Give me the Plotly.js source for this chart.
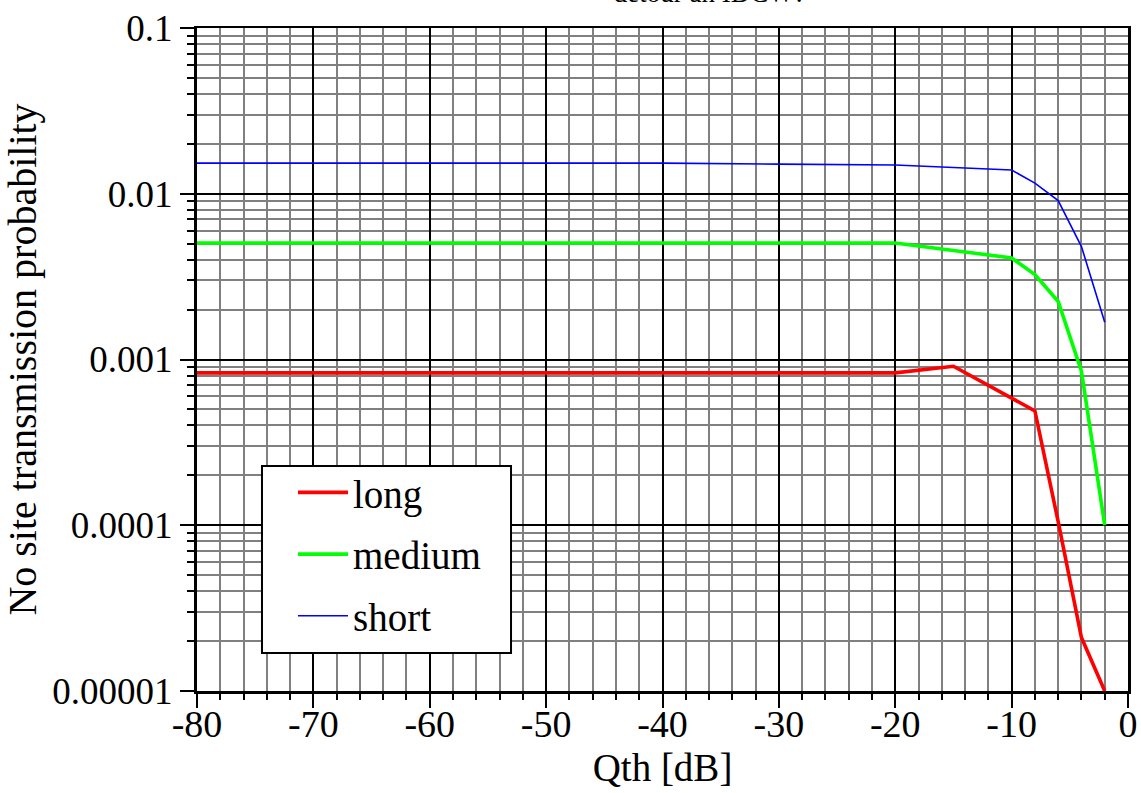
<!DOCTYPE html>
<html>
<head>
<meta charset="utf-8">
<script src="https://cdn.plot.ly/plotly-3.0.1.min.js"></script>
<style>html,body{margin:0;padding:0;background:#fff;}#chart{width:1141px;height:793px;}</style>
</head>
<body>
<div id="chart"></div>
<script>
var qth = [-80, -70, -60, -50, -40, -30, -20, -15, -10, -8, -6, -4, -2];
var longVals = [0.00083, 0.00083, 0.00083, 0.00083, 0.00083, 0.00083, 0.00083, 0.00091, 0.00059, 0.00049, 0.000105, 0.000021, 0.00001];
var mediumVals = [0.00504, 0.00504, 0.00504, 0.00504, 0.00504, 0.00504, 0.00504, 0.00455, 0.0041, 0.00325, 0.00224, 0.00085, 0.0001];
var shortVals = [0.0153, 0.0153, 0.0153, 0.0153, 0.0153, 0.0151, 0.0149, 0.0144, 0.0139, 0.0116, 0.0091, 0.0048, 0.00168];
var seriesNames = ['long', 'medium', 'short'];
var xTickVals = [-80, -70, -60, -50, -40, -30, -20, -10, 0];
var xTickText = ['-80', '-70', '-60', '-50', '-40', '-30', '-20', '-10', '0'];
var titleText = 'detour an IDCW?';

var FONT = "'Liberation Serif', 'Times New Roman', Times, serif";

var traces = [
  {x: qth, y: longVals, name: seriesNames[0], legendgroup: 'g1', mode: 'lines', line: {color: '#ff0000', width: 3.6}},
  {x: qth, y: mediumVals, name: seriesNames[1], legendgroup: 'g2', mode: 'lines', line: {color: '#00ff00', width: 3.6}},
  {x: qth, y: shortVals, name: seriesNames[2], legendgroup: 'g3', mode: 'lines', line: {color: '#0000ff', width: 1.6}}
];

var layout = {
  width: 1141, height: 793,
  margin: {l: 197, r: 13, t: 28, b: 102},
  paper_bgcolor: '#ffffff', plot_bgcolor: '#ffffff',
  font: {family: FONT, size: 38, color: '#000'},
  title: {text: titleText, font: {family: FONT, size: 27, color: '#000'}, x: 0.622, xanchor: 'center', xref: 'container', yref: 'container', y: 0.998, yanchor: 'bottom'},
  showlegend: true,
  legend: {x: 0.1031, y: 0.064, xanchor: 'left', yanchor: 'bottom', bgcolor: 'rgba(0,0,0,0)', borderwidth: 0,
           font: {family: FONT, size: 39, color: '#000'}, traceorder: 'grouped', tracegroupgap: 8, itemwidth: 50},
  shapes: [
    {type: 'rect', xref: 'paper', yref: 'paper', x0: 0.0698, x1: 0.3373, y0: 0.0573, y1: 0.3394,
     fillcolor: '#ffffff', line: {color: '#000', width: 2}, layer: 'above'}
  ],
  xaxis: {
    range: [-80, 0], tickmode: 'array', tickvals: xTickVals, ticktext: xTickText,
    showgrid: true, gridcolor: '#000', gridwidth: 2,
    showline: true, linecolor: '#000', linewidth: 2.5, mirror: true,
    ticks: 'outside', ticklen: 14, tickwidth: 2, tickcolor: '#000',
    minor: {dtick: 2, tick0: 0, ticks: 'outside', ticklen: 6, tickwidth: 2, tickcolor: '#000', showgrid: true, gridcolor: '#808080', gridwidth: 2},
    zeroline: false, ticklabelstandoff: -16,
    tickfont: {family: FONT, size: 38, color: '#000'},
    title: {text: 'Qth [dB]', font: {family: FONT, size: 39, color: '#000'}, standoff: 10}
  },
  yaxis: {
    type: 'log', range: [-5, -1], dtick: 1, tick0: 0, exponentformat: 'none',
    showgrid: true, gridcolor: '#000', gridwidth: 2,
    showline: true, linecolor: '#000', linewidth: 3, mirror: true,
    ticks: 'outside', ticklen: 14, tickwidth: 2, tickcolor: '#000',
    minor: {dtick: 'D1', ticks: 'outside', ticklen: 7, tickwidth: 2, tickcolor: '#000', showgrid: true, gridcolor: '#808080', gridwidth: 2},
    zeroline: false,
    tickfont: {family: FONT, size: 37, color: '#000'},
    title: {text: 'No site transmission probability', font: {family: FONT, size: 40, color: '#000'}, standoff: 8}
  }
};

Plotly.newPlot('chart', traces, layout, {displayModeBar: false, staticPlot: true});
</script>
</body>
</html>
